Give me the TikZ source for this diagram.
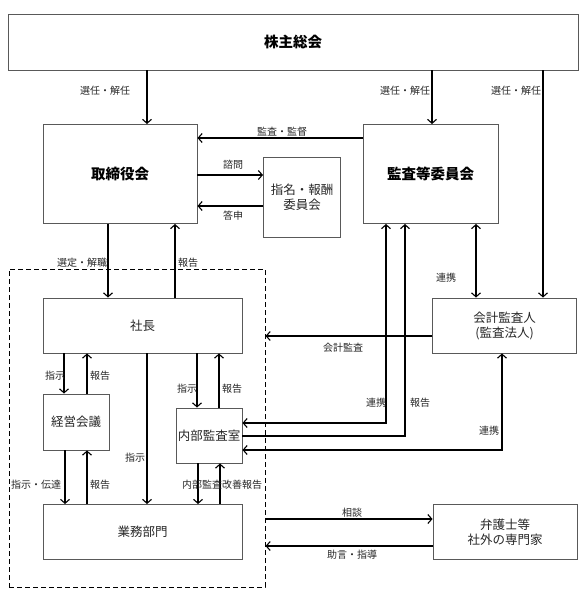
\documentclass[tikz,border=0pt]{standalone}
\usepackage{fontspec}
\setmainfont{Noto Sans CJK JP}
\usetikzlibrary{arrows.meta}

\begin{document}
\begin{tikzpicture}[x=1pt, y=-1pt,
        box/.style={draw=black!65, line width=0.9pt, rectangle, align=center, inner sep=0pt,
            text=black!85, font=\fontsize{12.5}{15}\selectfont},
        head/.style={box, text=black, font=\fontsize{14.5}{17}\selectfont\bfseries},
        lbl/.style={inner sep=0pt, text=black!85, font=\fontsize{10}{12}\selectfont},
        arr/.style={line width=1.1pt, -{Straight Barb[length=4pt,width=9pt]}},
        both/.style={line width=1.1pt, {Straight Barb[length=4pt,width=9pt]}-{Straight Barb[length=4pt,width=9pt]}}]
        \useasboundingbox (0,0) rectangle (585,602);

        % execution side, dashed frame
        \node[draw, line width=1pt, dash pattern=on 5pt off 3pt, inner sep=0pt,
            minimum width=256pt, minimum height=318pt] (grp) at (137,428) {};

        \node[head, minimum width=570pt, minimum height=56pt] (gm) at (293,42) {株主総会};
        \node[head, minimum width=154pt, minimum height=99pt] (bod) at (120,174) {取締役会};
        \node[head, minimum width=135pt, minimum height=99pt] (ac) at (430.5,174) {監査等委員会};
        \node[box, minimum width=77pt, minimum height=80pt] (nom) at (302,197) {指名・報酬\\委員会};
        \node[box, minimum width=199pt, minimum height=55pt] (pres) at (142.5,325.5) {社長};
        \node[box, minimum width=66pt, minimum height=56pt] (mgmt) at (76,422) {経営会議};
        \node[box, minimum width=66pt, minimum height=55pt] (ia) at (209,435.5) {内部監査室};
        \node[box, minimum width=199pt, minimum height=55pt] (ops) at (142.5,532) {業務部門};
        \node[box, minimum width=144pt, minimum height=55pt] (aud) at (504.5,325.5) {会計監査人\\(監査法人)};
        \node[box, minimum width=144pt, minimum height=55pt] (law) at (505,532) {弁護士等\\社外の専門家};

        % shareholders
        \draw[arr] (147,0 |- gm.south) -- (147,0 |- bod.north);
        \draw[arr] (432,0 |- gm.south) -- (432,0 |- ac.north);
        \draw[arr] (543,0 |- gm.south) -- (543,0 |- aud.north);
        \node[lbl] (l1) at (105,91) {選任・解任};
        \node[lbl] (l2) at (405,91) {選任・解任};
        \node[lbl] (l3) at (516,91) {選任・解任};

        % board
        \draw[arr] (ac.west |- 0,138) -- (bod.east |- 0,138);
        \draw[arr] (bod.east |- 0,175) -- (nom.west |- 0,175);
        \draw[arr] (nom.west |- 0,206) -- (bod.east |- 0,206);
        \node[lbl] (l4) at (282,132) {監査・監督};
        \node[lbl] (l5) at (233,165) {諮問};
        \node[lbl] (l6) at (233,216) {答申};

        \draw[arr] (108,0 |- bod.south) -- (108,0 |- pres.north);
        \draw[arr] (175,0 |- pres.north) -- (175,0 |- bod.south);
        \node[lbl] (l7) at (82,263) {選定・解職};
        \node[lbl] (l8) at (188,263) {報告};

        % president
        \draw[arr] (64,0 |- pres.south) -- (64,0 |- mgmt.north);
        \draw[arr] (87,0 |- mgmt.north) -- (87,0 |- pres.south);
        \node[lbl] (l9) at (55,376) {指示};
        \node[lbl] (l10) at (100,376) {報告};
        \draw[arr] (197,0 |- pres.south) -- (197,0 |- ia.north);
        \draw[arr] (219,0 |- ia.north) -- (219,0 |- pres.south);
        \node[lbl] (l11) at (187,389) {指示};
        \node[lbl] (l12) at (232,389) {報告};
        \draw[arr] (147,0 |- pres.south) -- (147,0 |- ops.north);
        \node[lbl] (l13) at (135,458) {指示};

        % operations
        \draw[arr] (65,0 |- mgmt.south) -- (65,0 |- ops.north);
        \draw[arr] (87,0 |- ops.north) -- (87,0 |- mgmt.south);
        \node[lbl] (l14) at (36,485) {指示・伝達};
        \node[lbl] (l15) at (100,485) {報告};
        \draw[arr] (198,0 |- ia.south) -- (198,0 |- ops.north);
        \draw[arr] (220,0 |- ops.north) -- (220,0 |- ia.south);
        \node[lbl] (l16) at (222,485) {内部監査改善報告};

        % audit side
        \draw[both] (476,0 |- ac.south) -- (476,0 |- aud.north);
        \node[lbl] (l17) at (446,278) {連携};
        \draw[arr] (aud.west |- 0,336) -- (grp.east |- 0,336);
        \node[lbl] (l18) at (343,348) {会計監査};
        \draw[both] (386,0 |- ac.south) |- (ia.east |- 0,423);
        \draw[arr] (ia.east |- 0,436) -| (405,0 |- ac.south);
        \draw[both] (502,0 |- aud.south) |- (ia.east |- 0,450);
        \node[lbl] (l19) at (376,403) {連携};
        \node[lbl] (l20) at (420,403) {報告};
        \node[lbl] (l21) at (489,431) {連携};

        % outside experts
        \draw[arr] (grp.east |- 0,519) -- (law.west |- 0,519);
        \draw[arr] (law.west |- 0,546) -- (grp.east |- 0,546);
        \node[lbl] (l22) at (352,513) {相談};
        \node[lbl] (l23) at (352,555) {助言・指導};
\end{tikzpicture}
\end{document}
